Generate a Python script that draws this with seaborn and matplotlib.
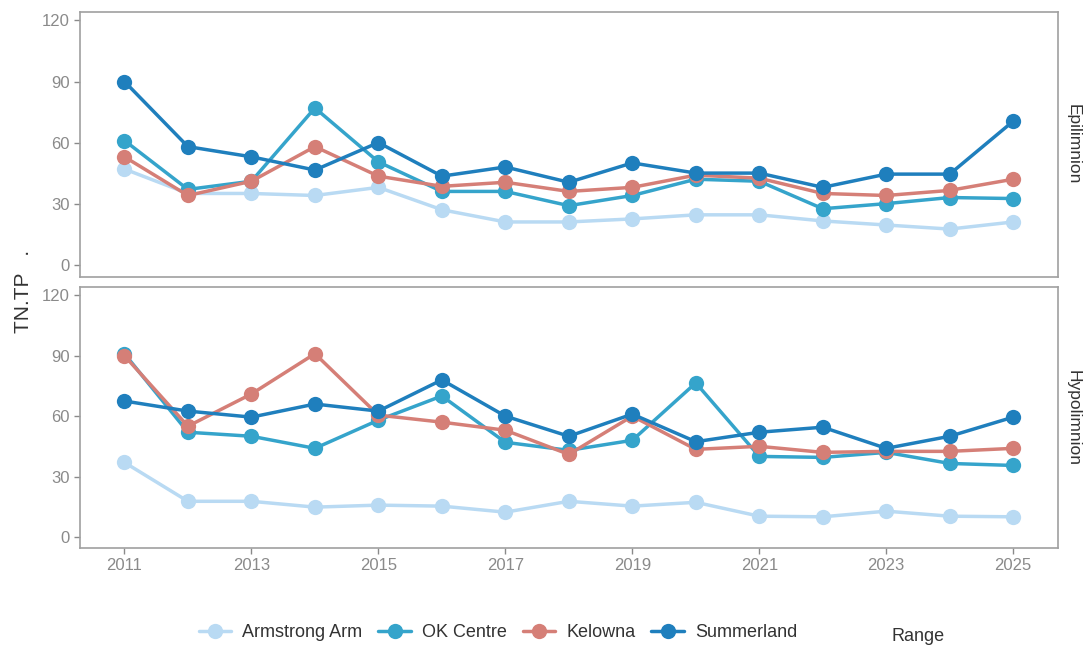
import numpy as np
import pandas as pd
import matplotlib
matplotlib.use("Agg")
import matplotlib.pyplot as plt
from matplotlib.lines import Line2D
import seaborn as sns

# ------------------------------
# data
# ------------------------------
years = list(range(2011, 2026))
sites = ["Armstrong Arm", "OK Centre", "Kelowna", "Summerland"]
layers = ["Epilimnion", "Hypolimnion"]

epi_armstrong = [47, 35, 35, 34, 38, 27, 21, 21, 22.5, 24.5, 24.5, 21.5, 19.5, 17.5, 21]
epi_okcentre = [61, 37, 41, 77, 50.5, 36, 36, 29, 34, 42, 41, 27.5, 30, 33, 32.5]
epi_kelowna = [53, 34, 41, 58, 43.5, 38.5, 40.5, 36, 38, 44, 42.5, 35, 34, 36.5, 42]
epi_summerland = [90, 58, 53, 46.5, 60, 43.5, 48, 40.5, 50, 45, 45, 38, 44.5, 44.5, 70.5]

hypo_armstrong = [37, 17.7, 17.7, 14.8, 15.8, 15.3, 12.3, 17.7, 15.3, 17.2, 10.3, 10, 12.8, 10.3, 10]
hypo_okcentre = [91, 52, 50, 44, 58, 70, 47, 43, 48, 76.5, 40, 39.5, 42, 36.5, 35.5]
hypo_kelowna = [90, 55, 71, 91, 60.5, 57, 53, 41, 60, 43.5, 45, 42, 42.5, 42.5, 44]
hypo_summerland = [67.5, 62.5, 59.5, 66, 62.5, 78, 60, 50, 61, 47.3, 52, 54.5, 44, 50, 59.5]

palette = {
    "Armstrong Arm": "#b9daf3",
    "OK Centre": "#35a4cb",
    "Kelowna": "#d57f77",
    "Summerland": "#1f7fbd",
}

series = {
    "Epilimnion": [epi_armstrong, epi_okcentre, epi_kelowna, epi_summerland],
    "Hypolimnion": [hypo_armstrong, hypo_okcentre, hypo_kelowna, hypo_summerland],
}

rows = []
for layer in layers:
    for site, vals in zip(sites, series[layer]):
        for yr, v in zip(years, vals):
            rows.append({"layer": layer, "site": site, "year": yr, "value": v})
df = pd.DataFrame(rows)

# ------------------------------
# plot
# ------------------------------
sns.set_style("white")
plt.rcParams["font.family"] = ["Liberation Sans", "DejaVu Sans"]

fig = plt.figure(figsize=(10.87, 6.47), dpi=100)
ax_top = fig.add_axes([0.0736, 0.572, 0.8994, 0.409])
ax_bot = fig.add_axes([0.0736, 0.153, 0.8994, 0.403])

grey = "#8a8a8a"
for ax, layer, ylim in [(ax_top, "Epilimnion", (-6, 124)), (ax_bot, "Hypolimnion", (-5.5, 124))]:
    sub = df[df["layer"] == layer]
    sns.lineplot(
        data=sub, x="year", y="value", hue="site", hue_order=sites,
        palette=palette, marker="o", markersize=11, markeredgewidth=0,
        linewidth=2.5, legend=False, ax=ax,
    )
    ax.set_xlim(2010.3, 2025.7)
    ax.set_ylim(*ylim)
    ax.set_yticks([0, 30, 60, 90, 120])
    ax.set_xticks(list(range(2011, 2026, 2)))
    ax.set_xlabel("")
    ax.set_ylabel("")
    ax.tick_params(axis="both", colors=grey, labelsize=12, length=4, width=1,
                   direction="out", bottom=True, left=True)
    for s in ax.spines.values():
        s.set_color("#a0a0a0")
        s.set_linewidth(1.2)
    ax.text(1.016, 0.5, layer, transform=ax.transAxes, rotation=-90,
            ha="center", va="center", fontsize=12.5, color="#333333")

ax_top.tick_params(axis="x", labelbottom=False, bottom=False)

fig.text(0.022, 0.55, "TN.TP   .", rotation=90, ha="center", va="center",
         fontsize=15, color="#333333")

handles = [
    Line2D([], [], color=palette[s], marker="o", markersize=11, markeredgewidth=0, linewidth=2.5)
    for s in sites
]
fig.legend(handles, sites, loc="center", bbox_to_anchor=(0.458, 0.022), ncol=4,
           frameon=False, fontsize=13, handlelength=1.8, handletextpad=0.6,
           columnspacing=0.9, labelcolor="#333333")
fig.text(0.845, 0.016, "Range", ha="center", va="center", fontsize=13, color="#333333")

fig.savefig("out.png", dpi=100)
plt.close(fig)
